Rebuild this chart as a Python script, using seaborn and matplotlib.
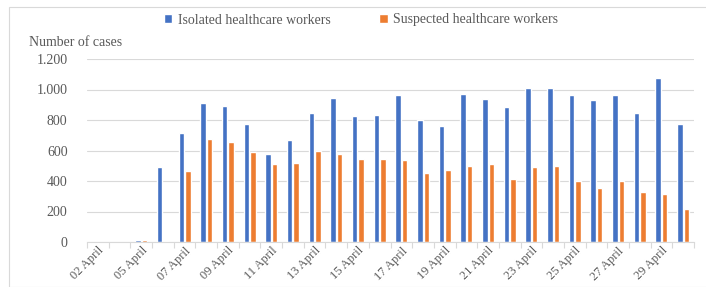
import matplotlib
matplotlib.use("Agg")
from matplotlib import pyplot as plt
from matplotlib.patches import Rectangle
from matplotlib.ticker import FixedLocator, FuncFormatter
import pandas as pd
import seaborn as sns

days = ["02 April", "03 April", "05 April", "06 April", "07 April", "08 April",
        "09 April", "10 April", "11 April", "12 April", "13 April", "14 April",
        "15 April", "16 April", "17 April", "18 April", "19 April", "20 April",
        "21 April", "22 April", "23 April", "24 April", "25 April", "26 April",
        "27 April", "28 April", "29 April", "30 April"]
isolated = [0, 0, 13, 493, 718, 912, 890, 775, 578, 666, 845, 943, 829, 834,
            965, 799, 762, 973, 938, 884, 1010, 1013, 967, 930, 967, 849, 1076, 775]
suspected = [0, 0, 12, 4, 463, 677, 659, 587, 513, 517, 598, 576, 541, 543,
             535, 454, 474, 500, 509, 415, 489, 500, 400, 356, 400, 330, 314, 216]
series_names = ["Isolated healthcare workers", "Suspected healthcare workers"]

df = pd.DataFrame({"day": days * 2,
                   "cases": isolated + suspected,
                   "series": [series_names[0]] * len(days) + [series_names[1]] * len(days)})

sns.set_style("white")
plt.rcParams["font.family"] = ["Liberation Serif", "DejaVu Serif"]
grey_text = "#595959"

fig = plt.figure(figsize=(7.06, 2.87), dpi=100)
ax = fig.add_axes([87 / 706, 1 - 242 / 287, (694 - 87) / 706, (242 - 59) / 287])
fig.patches.append(Rectangle((9 / 706, 0), 1, 1 - 7 / 287, transform=fig.transFigure,
                             fill=False, edgecolor="#D9D9D9", linewidth=0.8))

sns.barplot(data=df, x="day", y="cases", hue="series", order=days,
            palette=["#4472C4", "#ED7D31"], width=0.6, gap=0.15,
            saturation=1, ax=ax)

handles, labels = ax.get_legend_handles_labels()
ax.get_legend().remove()
fig.legend(handles, labels, loc="center", bbox_to_anchor=(361 / 706, 1 - 20 / 287),
           ncol=2, frameon=False, handlelength=0.6, handleheight=0.6,
           handletextpad=0.4, columnspacing=3.5, prop={"size": 10},
           labelcolor=grey_text)

ax.set_ylim(0, 1200)
ax.set_xlim(-0.5, len(days) - 0.5)
ax.set_yticks(range(0, 1201, 200))
ax.yaxis.set_major_formatter(FuncFormatter(lambda v, p: f"{int(v):,}".replace(",", ".")))
ax.grid(axis="y", color="#D9D9D9", linewidth=0.8)
ax.set_axisbelow(True)

ax.xaxis.set_major_locator(FixedLocator(range(0, len(days), 2)))
ax.set_xticklabels(days[::2])
ax.xaxis.set_minor_locator(FixedLocator([i - 0.5 for i in range(len(days) + 1)]))
ax.tick_params(axis="x", which="major", length=0, pad=2, labelsize=9, labelcolor=grey_text)
ax.tick_params(axis="x", which="minor", length=4, color="#D9D9D9", width=0.8, bottom=True)
ax.tick_params(axis="y", length=0, pad=14, labelsize=10, labelcolor=grey_text)
for lbl in ax.get_xticklabels():
    lbl.set_rotation(45)
    lbl.set_ha("right")
    lbl.set_rotation_mode("anchor")

for side in ["top", "right", "left"]:
    ax.spines[side].set_visible(False)
ax.spines["bottom"].set_color("#D9D9D9")
ax.spines["bottom"].set_linewidth(0.8)
ax.set_xlabel("")
ax.set_ylabel("")

fig.text(29 / 706, 1 - 42 / 287, "Number of cases", fontsize=10, color=grey_text,
         ha="left", va="center")

fig.savefig("out.png", dpi=100)
plt.close(fig)
